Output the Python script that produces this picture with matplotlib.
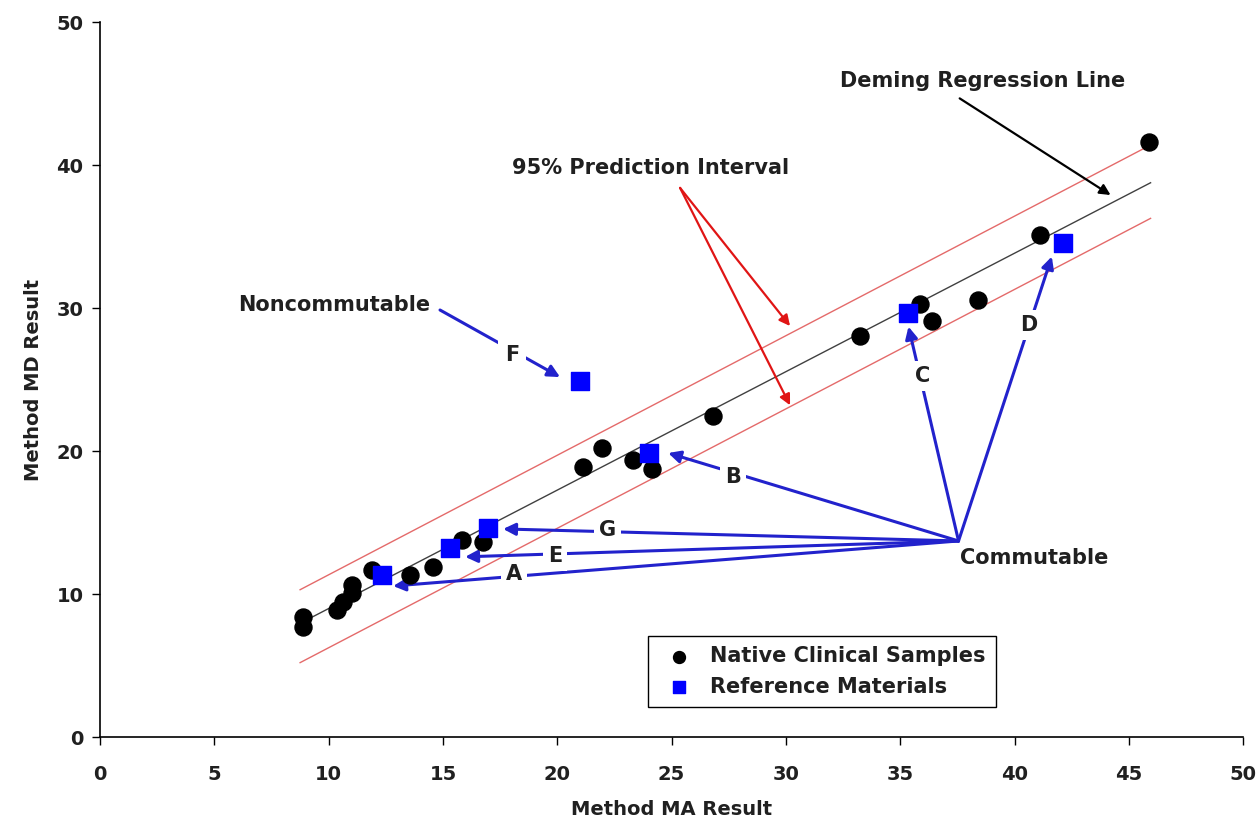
import matplotlib
matplotlib.use("Agg")
import matplotlib.pyplot as plt

plt.rcParams['font.family'] = ['DejaVu Sans']
plt.rcParams['font.weight'] = 'bold'

# native clinical samples (MA, MD)
native_x = [8.88, 8.88, 10.35, 10.64, 11.01, 11.01, 11.88, 13.56, 14.58, 15.82, 16.77,
            21.14, 21.95, 23.33, 24.13, 26.83, 33.22, 35.87, 36.38, 38.38, 41.12, 45.9]
native_y = [8.39, 7.69, 8.88, 9.46, 10.05, 10.63, 11.68, 11.33, 11.91, 13.78, 13.66,
            18.86, 20.23, 19.37, 18.72, 22.45, 28.04, 30.28, 29.11, 30.56, 35.1, 41.63]

# reference materials
ref_names = ['A', 'E', 'G', 'B', 'C', 'D', 'F']
ref_x = [12.32, 15.31, 16.99, 24.03, 35.32, 42.11, 21.0]
ref_y = [11.33, 13.19, 14.59, 19.88, 29.63, 34.52, 24.92]

# deming line and 95% prediction interval end points
line_x = [8.75, 45.95]
deming_y = [7.95, 38.76]
upper_y = [10.3, 41.4]
lower_y = [5.2, 36.27]

fig = plt.figure(figsize=(12.57, 8.34), dpi=100)
ax = fig.add_axes([0.0796, 0.1163, 0.9094, 0.8573])

ax.plot(line_x, deming_y, color='#404040', lw=1.0, zorder=2)
ax.plot(line_x, upper_y, color='#e46a6a', lw=1.0, zorder=2)
ax.plot(line_x, lower_y, color='#e46a6a', lw=1.0, zorder=2)

ax.scatter(native_x, native_y, s=150, c='black', marker='o', zorder=4,
           label='Native Clinical Samples')
ax.scatter(ref_x, ref_y, s=170, c='#0000ff', marker='s', zorder=5,
           label='Reference Materials')

blue = '#2222cc'
txt = '#202020'
fs = 15

# commutable arrows: target point, label position
hub = (37.55, 13.71)
targets = {'A': (12.82, 10.56), 'E': (15.97, 12.6), 'G': (17.63, 14.55),
           'B': (24.85, 19.86), 'C': (35.36, 28.7), 'D': (41.63, 33.6)}
labels = {'A': (18.1, 11.4), 'E': (19.9, 12.66), 'G': (22.2, 14.5),
          'B': (27.7, 18.2), 'C': (35.96, 25.24), 'D': (40.6, 28.8)}
for k in targets:
    ax.annotate('', xy=targets[k], xytext=hub,
                arrowprops=dict(arrowstyle='-|>', color=blue, lw=2.2,
                                mutation_scale=18, shrinkA=0, shrinkB=0),
                zorder=3)
    ax.text(labels[k][0], labels[k][1], k, fontsize=fs, ha='center', va='center',
            color=txt, zorder=6,
            bbox=dict(boxstyle='square,pad=0.25', fc='white', ec='none'))

ax.text(37.6, 12.5, 'Commutable', fontsize=fs, ha='left', va='center', color=txt)

# noncommutable
ax.annotate('', xy=(20.12, 25.17), xytext=(14.87, 29.86),
            arrowprops=dict(arrowstyle='-|>', color=blue, lw=2.2,
                            mutation_scale=18, shrinkA=0, shrinkB=0), zorder=3)
ax.text(18.02, 26.7, 'F', fontsize=fs, ha='center', va='center', color=txt,
        zorder=6, bbox=dict(boxstyle='square,pad=0.35', fc='white', ec='none'))
ax.text(14.44, 30.2, 'Noncommutable', fontsize=fs, ha='right', va='center',
        color=txt)

# prediction interval
ax.text(24.06, 39.8, '95% Prediction Interval', fontsize=fs, ha='center',
        va='center', color=txt)
for ty in [28.74, 23.2]:
    ax.annotate('', xy=(30.18, ty), xytext=(25.37, 38.4),
                arrowprops=dict(arrowstyle='-|>', color='#e01515', lw=1.6,
                                mutation_scale=16, shrinkA=0, shrinkB=0), zorder=3)

# deming label
ax.text(38.6, 45.9, 'Deming Regression Line', fontsize=fs, ha='center',
        va='center', color=txt)
ax.annotate('', xy=(44.2, 37.9), xytext=(37.6, 44.66),
            arrowprops=dict(arrowstyle='-|>', color='black', lw=1.6,
                            mutation_scale=16, shrinkA=0, shrinkB=0), zorder=3)

ax.set_xlim(0, 50)
ax.set_ylim(0, 50)
ax.set_xticks(range(0, 51, 5))
ax.set_yticks(range(0, 51, 10))
ax.tick_params(direction='out', length=6, width=1, labelsize=14, pad=14,
               labelcolor=txt)
ax.tick_params(axis='y', pad=6)
ax.spines['top'].set_visible(False)
ax.spines['right'].set_visible(False)
ax.spines['left'].set_linewidth(1.2)
ax.spines['bottom'].set_linewidth(1.2)
ax.set_xlabel('Method MA Result', fontsize=14, fontweight='bold', color=txt,
              labelpad=12)
ax.set_ylabel('Method MD Result', fontsize=14, fontweight='bold', color=txt,
              labelpad=10)

leg = ax.legend(loc='lower left', bbox_to_anchor=(0.47, 0.027), fontsize=fs,
                fancybox=False, edgecolor='black', framealpha=1,
                handletextpad=0.5, borderpad=0.5, markerscale=0.7)
leg.get_frame().set_linewidth(1.0)
for t in leg.get_texts():
    t.set_color(txt)

fig.savefig('out.png', dpi=100)
